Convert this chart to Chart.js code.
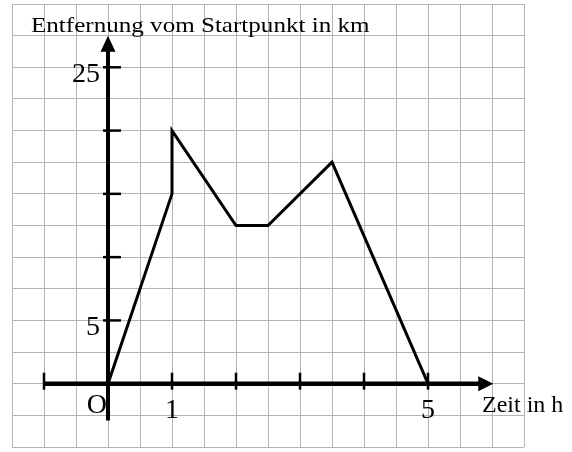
<!DOCTYPE html>
<html>
<head>
<meta charset="utf-8">
<script src="https://cdn.jsdelivr.net/npm/chart.js"></script>
<style>
  html, body { margin: 0; padding: 0; background: #fff; }
  #wrap { width: 572px; height: 452px; }
</style>
</head>
<body>
<div id="wrap"><canvas id="c" width="572" height="452"></canvas></div>
<script>
// time in h and distance in km
const hours = [0, 1, 1, 2, 2.5, 3.5, 5];
const km = [0, 15, 20, 12.5, 12.5, 17.5, 0];

const xTicks = [-1, 1, 2, 3, 4, 5];
const yTicks = [5, 10, 15, 20, 25];
const xLabels = [{ v: 1, t: '1' }, { v: 5, t: '5' }];
const yLabels = [{ v: 5, t: '5' }, { v: 25, t: '25' }];

const yAxisTitle = 'Entfernung vom Startpunkt in km';
const xAxisTitle = 'Zeit in h';

const serif = '"Liberation Serif", "DejaVu Serif", serif';

// stretched text, the reference letters are a bit wider than plain Times
function wideText(ctx, text, x, y, sx) {
  ctx.save();
  ctx.translate(x, y);
  ctx.scale(sx, 1);
  ctx.fillText(text, 0, 0);
  ctx.restore();
}

const axesPlugin = {
  id: 'axes',
  beforeDatasetsDraw(chart) {
    const ctx = chart.ctx;
    const xs = chart.scales.x;
    const ys = chart.scales.y;
    const x0 = xs.getPixelForValue(0);
    const y0 = ys.getPixelForValue(0);

    ctx.save();
    ctx.strokeStyle = '#000';
    ctx.fillStyle = '#000';

    // x axis
    const xStart = xs.getPixelForValue(-1);
    const xTip = xs.getPixelForValue(6.02);
    ctx.lineWidth = 4.5;
    ctx.beginPath();
    ctx.moveTo(xStart, y0);
    ctx.lineTo(xTip - 12, y0);
    ctx.stroke();
    ctx.beginPath();
    ctx.moveTo(xTip, y0);
    ctx.lineTo(xTip - 15, y0 - 7.5);
    ctx.lineTo(xTip - 15, y0 + 7.5);
    ctx.closePath();
    ctx.fill();

    // y axis
    const yBottom = ys.getPixelForValue(-2.9);
    const yTip = ys.getPixelForValue(27.5);
    ctx.lineWidth = 4;
    ctx.beginPath();
    ctx.moveTo(x0, yBottom);
    ctx.lineTo(x0, yTip + 12);
    ctx.stroke();
    ctx.beginPath();
    ctx.moveTo(x0, yTip);
    ctx.lineTo(x0 - 7.5, yTip + 16);
    ctx.lineTo(x0 + 7.5, yTip + 16);
    ctx.closePath();
    ctx.fill();

    // ticks
    ctx.lineWidth = 2.5;
    xTicks.forEach(v => {
      const px = xs.getPixelForValue(v);
      ctx.beginPath();
      ctx.moveTo(px, y0 - 11);
      ctx.lineTo(px, y0 + 6);
      ctx.stroke();
    });
    yTicks.forEach(v => {
      const py = ys.getPixelForValue(v);
      ctx.beginPath();
      ctx.moveTo(x0 - 5, py);
      ctx.lineTo(x0 + 13, py);
      ctx.stroke();
    });

    // labels
    ctx.font = '28px ' + serif;
    ctx.textBaseline = 'alphabetic';
    ctx.textAlign = 'center';
    xLabels.forEach(l => {
      ctx.fillText(l.t, xs.getPixelForValue(l.v), y0 + 34);
    });
    ctx.textAlign = 'right';
    yLabels.forEach(l => {
      ctx.fillText(l.t, x0 - 8, ys.getPixelForValue(l.v) + 15);
    });
    ctx.fillText('O', x0 - 1, y0 + 29);

    ctx.textAlign = 'left';
    ctx.font = '24px ' + serif;
    ctx.fillText(xAxisTitle, x0 + 374, y0 + 28);
    ctx.font = '22px ' + serif;
    wideText(ctx, yAxisTitle, 31, 32, 1.14);
    ctx.restore();
  }
};

new Chart(document.getElementById('c'), {
  type: 'scatter',
  data: {
    datasets: [{
      data: hours.map((h, i) => ({ x: h, y: km[i] })),
      showLine: true,
      borderColor: '#000',
      borderWidth: 3,
      pointRadius: 0,
      tension: 0,
      fill: false
    }]
  },
  options: {
    responsive: false,
    animation: false,
    layout: { padding: { left: 12, right: 48, top: 4, bottom: 5 } },
    plugins: { legend: { display: false }, tooltip: { enabled: false } },
    scales: {
      x: {
        type: 'linear',
        min: -1.5,
        max: 6.5,
        border: { display: false },
        ticks: { display: false, stepSize: 0.5 },
        grid: { color: '#b4b4b4', lineWidth: 1, drawTicks: false }
      },
      y: {
        type: 'linear',
        min: -5,
        max: 30,
        border: { display: false },
        ticks: { display: false, stepSize: 2.5 },
        grid: { color: '#b4b4b4', lineWidth: 1, drawTicks: false }
      }
    }
  },
  plugins: [axesPlugin]
});
</script>
</body>
</html>
